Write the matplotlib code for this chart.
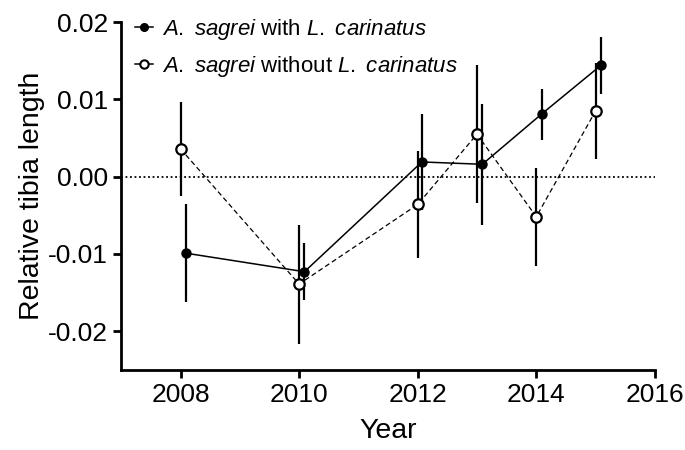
# Relative tibia length of A. sagrei by year, with/without L. carinatus

import matplotlib
matplotlib.use("Agg")
import matplotlib.pyplot as plt
from matplotlib.lines import Line2D
from matplotlib.ticker import FormatStrFormatter

plt.rcParams['font.family'] = 'Liberation Sans'
plt.rcParams['mathtext.fontset'] = 'custom'
plt.rcParams['mathtext.it'] = 'Liberation Sans:italic'
plt.rcParams['mathtext.rm'] = 'Liberation Sans'
plt.rcParams['axes.unicode_minus'] = False

# Data
years_with = [2008.09, 2010.09, 2012.07, 2013.09, 2014.09, 2015.09]
tibia_with = [-0.0099, -0.0123, 0.0019, 0.0016, 0.0081, 0.0144]
err_with = [0.0063, 0.0037, 0.0062, 0.0078, 0.0033, 0.0037]

years_without = [2008, 2010, 2012, 2013, 2014, 2015]
tibia_without = [0.0036, -0.0139, -0.0036, 0.0055, -0.0052, 0.0085]
err_without = [0.0061, 0.0077, 0.0069, 0.0089, 0.0063, 0.0062]

label_with = r'$\it{A.}$ $\it{sagrei}$ with $\it{L.}$ $\it{carinatus}$'
label_without = r'$\it{A.}$ $\it{sagrei}$ without $\it{L.}$ $\it{carinatus}$'

fig = plt.figure(figsize=(6.85, 4.5), dpi=100)
ax = fig.add_axes([0.177, 0.178, 0.779, 0.773])

ax.axhline(0, color='black', linestyle=(0, (1, 1.5)), linewidth=1.3, zorder=1)

ax.errorbar(years_with, tibia_with, yerr=err_with, fmt='o-', color='black',
            markersize=6.5, linewidth=1.1, elinewidth=1.6, capsize=0,
            markerfacecolor='black', zorder=3)
ax.errorbar(years_without, tibia_without, yerr=err_without, fmt='o--', color='black',
            markersize=7.5, linewidth=0.9, elinewidth=1.6, capsize=0,
            markerfacecolor='white', markeredgewidth=1.6, zorder=3,
            dashes=(4, 2.5))

ax.set_xlim(2007, 2016)
ax.set_ylim(-0.025, 0.02)
ax.set_xticks([2008, 2010, 2012, 2014, 2016])
ax.set_yticks([-0.02, -0.01, 0.0, 0.01, 0.02])
ax.yaxis.set_major_formatter(FormatStrFormatter('%.2f'))

ax.spines['top'].set_visible(False)
ax.spines['right'].set_visible(False)
ax.spines['left'].set_linewidth(2)
ax.spines['bottom'].set_linewidth(2)
ax.tick_params(width=2, length=6, labelsize=19, direction='out')

ax.set_xlabel('Year', fontsize=20.5, labelpad=8)
ax.set_ylabel('Relative tibia length', fontsize=20.5, labelpad=2)

handles = [
    Line2D([], [], color='black', marker='o', markersize=5.5, linewidth=1.1,
           markerfacecolor='black'),
    Line2D([], [], color='black', marker='o', markersize=6, linewidth=1.1,
           markerfacecolor='white', markeredgewidth=1.5),
]
ax.legend(handles, [label_with, label_without], loc='upper left', frameon=False,
          fontsize=16, handlelength=0.8, handletextpad=0.4, borderaxespad=0.0,
          labelspacing=0.55, bbox_to_anchor=(0.01, 1.04))

plt.savefig('out.png', dpi=100)
